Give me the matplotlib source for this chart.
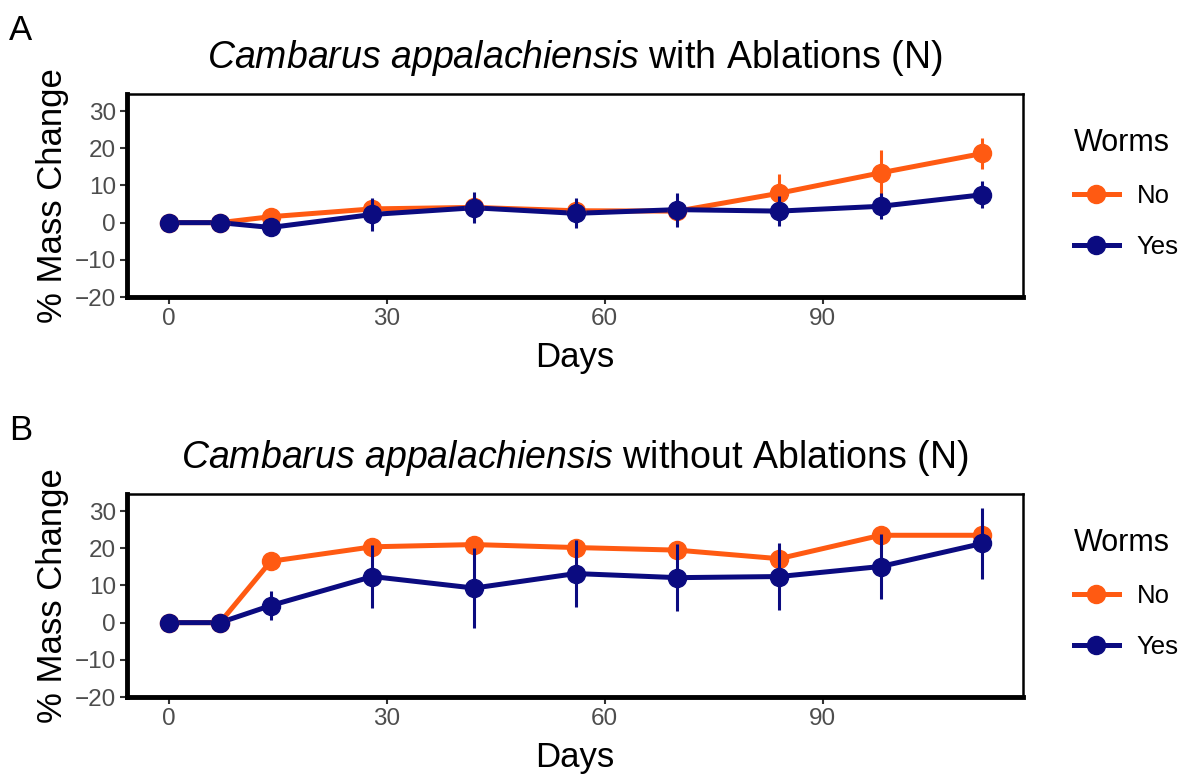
import matplotlib
matplotlib.use("Agg")
import matplotlib.pyplot as plt
from matplotlib.lines import Line2D

plt.rcParams['font.family'] = ['Liberation Sans', 'DejaVu Sans']
plt.rcParams['mathtext.fontset'] = 'custom'
plt.rcParams['mathtext.it'] = 'Liberation Sans:italic'
plt.rcParams['mathtext.rm'] = 'Liberation Sans'

days = [0, 7, 14, 28, 42, 56, 70, 84, 98, 112]

# Panel A: with ablations
a_no = [0, 0, 1.6, 3.7, 4.1, 3.2, 3.1, 7.9, 13.4, 18.6]
a_no_err = [0, 0, 1.0, 2.5, 3.0, 3.0, 2.5, 5.3, 6.2, 4.3]
a_yes = [0, 0, -1.3, 2.2, 4.0, 2.5, 3.5, 3.1, 4.4, 7.5]
a_yes_err = [0, 0, 1.0, 4.5, 4.2, 4.0, 4.6, 4.0, 3.5, 3.6]

# Panel B: without ablations
b_no = [0, 0, 16.5, 20.4, 21.0, 20.2, 19.5, 17.2, 23.5, 23.5]
b_no_err = [0, 0, 0.8, 0.8, 0.8, 0.8, 0.8, 0.8, 0.8, 0.8]
b_yes = [0, 0, 4.6, 12.4, 9.3, 13.2, 12.1, 12.4, 15.1, 21.3]
b_yes_err = [0, 0, 3.9, 8.5, 10.8, 9.1, 9.1, 9.1, 8.8, 9.5]

titles = ["with Ablations (N)", "without Ablations (N)"]
panel_labels = ["A", "B"]
legend_labels = ["No", "Yes"]
c_no = "#FF5A12"
c_yes = "#0B0B80"

fig = plt.figure(figsize=(11.85, 7.76), dpi=100)
W, H = 1185, 776
ax_boxes = [(127, 94, 1023, 297), (127, 494, 1023, 697)]
data = [(a_no, a_no_err, a_yes, a_yes_err), (b_no, b_no_err, b_yes, b_yes_err)]

for i, (box, d) in enumerate(zip(ax_boxes, data)):
    l, t, r, b = box
    ax = fig.add_axes([l / W, 1 - b / H, (r - l) / W, (b - t) / H])
    no, no_err, yes, yes_err = d
    ax.plot(days, no, color=c_no, lw=3.6, zorder=2, solid_capstyle='butt')
    ax.plot(days, yes, color=c_yes, lw=3.6, zorder=2, solid_capstyle='butt')
    ax.errorbar(days, no, yerr=no_err, fmt='o', color=c_no, ms=13, elinewidth=2.2,
                capsize=0, zorder=3)
    ax.errorbar(days, yes, yerr=yes_err, fmt='o', color=c_yes, ms=13, elinewidth=2.2,
                capsize=0, zorder=4)
    ax.set_xlim(-5.8, 117.6)
    ax.set_ylim(-20, 34.6)
    ax.set_xticks([0, 30, 60, 90])
    ax.set_yticks([-20, -10, 0, 10, 20, 30])
    ax.tick_params(axis='both', labelsize=17.5, labelcolor='#4D4D4D', color='#333333',
                   length=5, width=1.5, pad=3)
    for side in ['top', 'right']:
        ax.spines[side].set_linewidth(1.8)
    for side in ['left', 'bottom']:
        ax.spines[side].set_linewidth(3.5)
    ax.set_xlabel("Days", fontsize=25, labelpad=8)
    ax.set_ylabel("% Mass Change", fontsize=25, labelpad=4)
    ax.set_title(r"$\it{Cambarus\ appalachiensis}$ " + titles[i], fontsize=27, pad=19)
    fig.text(9 / W, 1 - (t - 80) / H, panel_labels[i], fontsize=25, va='top', ha='left')

    handles = [Line2D([0], [0], color=c_no, lw=3.6, marker='o', ms=13),
               Line2D([0], [0], color=c_yes, lw=3.6, marker='o', ms=13)]
    leg = ax.legend(handles, legend_labels, title="Worms", loc='upper left',
                    bbox_to_anchor=(1.045, 0.885), frameon=False, fontsize=18.5,
                    title_fontsize=22, handlelength=1.75, labelspacing=1.05,
                    handletextpad=0.7, borderaxespad=0)
    leg._legend_box.align = "left"
    leg._legend_box.sep = 19

fig.savefig("out.png", dpi=100)
